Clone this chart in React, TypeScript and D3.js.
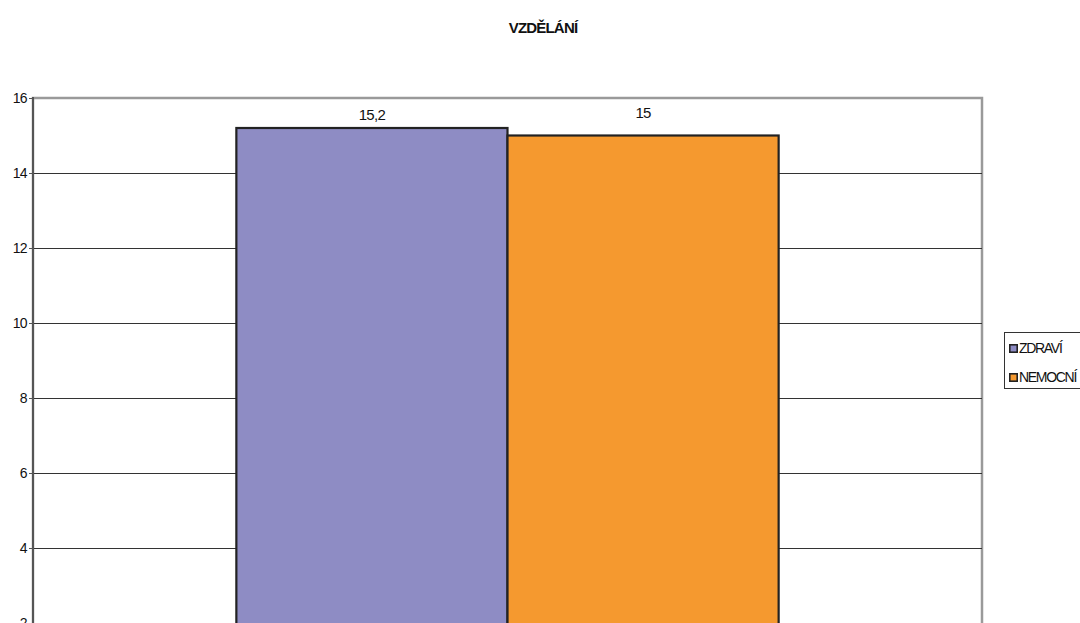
import React from "react";
import * as d3 from "d3";

// Series and their values
const SERIES = ["ZDRAVÍ", "NEMOCNÍ"];
const VALUES = [15.2, 15];
const VALUE_LABELS = ["15,2", "15"];
const COLORS = ["#8E8CC4", "#F5992F"];
const Y_TICKS = [0, 2, 4, 6, 8, 10, 12, 14, 16];
const TITLE = "VZDĚLÁNÍ";

// Layout
const W = 1080;
const H = 720;
const PLOT = { left: 33, right: 982, top: 98, bottom: 698 };
const LABEL_GAP = [8, 18];

export default function App() {
  const y = d3.scaleLinear().domain([0, 16]).range([PLOT.bottom, PLOT.top]);
  // single category, gap width 75% on each side of the bar group
  const x = d3
    .scaleBand<string>()
    .domain(SERIES)
    .range([PLOT.left, PLOT.right])
    .paddingInner(0)
    .paddingOuter(0.75);

  const font = "'Liberation Sans', Arial, sans-serif";

  return (
    <svg
      width={W}
      height={H}
      style={{ position: "absolute", left: 0, top: 0, display: "block", background: "#fff" }}
    >
      <text
        x={543}
        y={33}
        textAnchor="middle"
        fontFamily={font}
        fontWeight="bold"
        fontSize={15}
        letterSpacing={-0.8}
        fill="#111"
      >
        {TITLE}
      </text>

      {/* plot frame */}
      <rect
        x={PLOT.left}
        y={PLOT.top}
        width={PLOT.right - PLOT.left}
        height={PLOT.bottom - PLOT.top}
        fill="#fff"
        stroke="#9a9a9a"
        strokeWidth={2.5}
      />

      {/* gridlines */}
      {Y_TICKS.filter((t) => t > 0 && t < 16).map((t) => (
        <line
          key={t}
          x1={PLOT.left}
          x2={PLOT.right}
          y1={Math.round(y(t)) + 0.5}
          y2={Math.round(y(t)) + 0.5}
          stroke="#333"
          strokeWidth={1}
        />
      ))}

      {/* bars */}
      {SERIES.map((s, i) => (
        <rect
          key={s}
          x={x(s)!}
          y={y(VALUES[i])}
          width={x.bandwidth()}
          height={PLOT.bottom - y(VALUES[i])}
          fill={COLORS[i]}
          stroke="#222"
          strokeWidth={2.2}
        />
      ))}

      {/* value labels */}
      {SERIES.map((s, i) => (
        <text
          key={s}
          x={x(s)! + x.bandwidth() / 2}
          y={y(VALUES[i]) - LABEL_GAP[i]}
          textAnchor="middle"
          fontFamily={font}
          fontSize={15}
          letterSpacing={-0.7}
          fill="#111"
        >
          {VALUE_LABELS[i]}
        </text>
      ))}

      {/* y axis */}
      <line
        x1={PLOT.left}
        x2={PLOT.left}
        y1={PLOT.top - 1}
        y2={PLOT.bottom}
        stroke="#555"
        strokeWidth={2}
      />
      {Y_TICKS.map((t) => (
        <g key={t}>
          <line
            x1={PLOT.left - 4}
            x2={PLOT.left}
            y1={Math.round(y(t)) + 0.5}
            y2={Math.round(y(t)) + 0.5}
            stroke="#555"
            strokeWidth={1}
          />
          <text
            x={PLOT.left - 6}
            y={y(t) + 5}
            textAnchor="end"
            fontFamily={font}
            fontSize={14}
            letterSpacing={-0.6}
            fill="#111"
          >
            {t}
          </text>
        </g>
      ))}

      {/* legend */}
      <rect x={1004.5} y={332.5} width={90} height={56} fill="#fff" stroke="#333" strokeWidth={1} />
      {SERIES.map((s, i) => (
        <g key={s} transform={`translate(1009, ${344 + i * 29})`}>
          <rect x={0.8} y={0.8} width={7.4} height={7.4} fill={COLORS[i]} stroke="#222" strokeWidth={1.6} />
          <text x={10} y={9} fontFamily={font} fontSize={14} letterSpacing={-1.3} fill="#111">
            {s}
          </text>
        </g>
      ))}
    </svg>
  );
}
